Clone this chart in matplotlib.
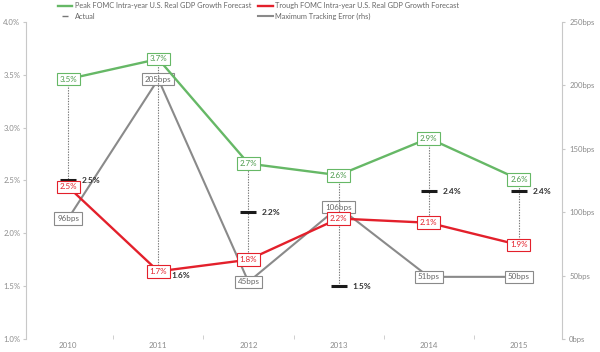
import matplotlib
matplotlib.use("Agg")
import matplotlib.pyplot as plt
from matplotlib.ticker import FuncFormatter, MultipleLocator

years = ["2010", "2011", "2012", "2013", "2014", "2015"]
peak = [3.46, 3.65, 2.66, 2.55, 2.90, 2.51]
peak_labels = ["3.5%", "3.7%", "2.7%", "2.6%", "2.9%", "2.6%"]
trough = [2.44, 1.64, 1.75, 2.14, 2.10, 1.89]
trough_labels = ["2.5%", "1.7%", "1.8%", "2.2%", "2.1%", "1.9%"]
actual = [2.5, 1.6, 2.2, 1.5, 2.4, 2.4]
actual_labels = ["2.5%", "1.6%", "2.2%", "1.5%", "2.4%", "2.4%"]
tracking = [95, 205, 45, 104, 49, 49]
tracking_labels = ["96bps", "205bps", "45bps", "106bps", "51bps", "50bps"]

GREEN = "#66b866"
RED = "#e3202b"
GRAY = "#8a8a8a"
AXIS = "#c8c8c8"
TXT = "#8c8c8c"

plt.rcParams["font.family"] = ["Lato", "DejaVu Sans"]

fig = plt.figure(figsize=(6.0, 3.52), dpi=100)
ax = fig.add_axes([0.043, 0.037, 0.894, 0.9005])
ax2 = ax.twinx()
ax.set_zorder(ax2.get_zorder() + 1)
ax.patch.set_visible(False)

x = list(range(len(years)))

# dotted range line per year, spanning forecasts and actual
for i in x:
    lo = min(peak[i], trough[i], actual[i])
    hi = max(peak[i], trough[i], actual[i])
    ax.plot([i, i], [lo, hi], color="#777777", lw=0.8, ls=(0, (1.2, 1.2)), zorder=1)

ax2.plot(x, tracking, color=GRAY, lw=1.5, zorder=2, label="Maximum Tracking Error (rhs)")
ax.plot(x, peak, color=GREEN, lw=1.7, zorder=3, label="Peak FOMC Intra-year U.S. Real GDP Growth Forecast")
ax.plot(x, trough, color=RED, lw=1.7, zorder=3, label="Trough FOMC Intra-year U.S. Real GDP Growth Forecast")
ax.plot(x, actual, ls="none", marker="_", ms=11, mew=2.2, color="#1a1a1a", zorder=4)

def boxed(a, xi, yi, s, col, tcol):
    a.text(xi, yi, s, ha="center", va="center", fontsize=5.8, color=tcol, zorder=6,
           bbox=dict(boxstyle="square,pad=0.35", fc="white", ec=col, lw=0.8))

for i in x:
    boxed(ax, i, peak[i], peak_labels[i], GREEN, "#4a9a4a")
    boxed(ax, i, trough[i], trough_labels[i], RED, RED)
    boxed(ax2, i, tracking[i], tracking_labels[i], GRAY, "#666666")
    ax.text(i + 0.15, actual[i], actual_labels[i], ha="left", va="center", fontsize=6,
            color="#333333", fontweight="bold", zorder=6)

ax.set_xlim(-0.47, 5.48)
ax.set_ylim(1.0, 4.0)
ax2.set_ylim(0, 250)
ax.set_xticks(x)
ax.set_xticklabels(years)
ax.set_xticks([i + 0.5 for i in x[:-1]], minor=True)
ax.yaxis.set_major_locator(MultipleLocator(0.5))
ax.yaxis.set_major_formatter(FuncFormatter(lambda v, p: f"{v:.1f}%"))
ax2.yaxis.set_major_locator(MultipleLocator(50))
ax2.yaxis.set_major_formatter(FuncFormatter(lambda v, p: f"{v:.0f}bps"))

for a in (ax, ax2):
    for s in ("top", "bottom"):
        a.spines[s].set_visible(False)
ax.spines["right"].set_visible(False)
ax2.spines["left"].set_visible(False)
ax.spines["left"].set_color(AXIS)
ax2.spines["right"].set_color(AXIS)
ax.tick_params(axis="y", colors=AXIS, labelcolor=TXT, labelsize=5.6, length=2, pad=2)
ax2.tick_params(axis="y", colors=AXIS, labelcolor=TXT, labelsize=5.6, length=2, pad=3)
ax.tick_params(axis="x", which="major", length=0, labelcolor=TXT, labelsize=5.8, pad=2)
ax.tick_params(axis="x", which="minor", length=3, color=AXIS, direction="in")

h1, l1 = ax.get_legend_handles_labels()
h2, l2 = ax2.get_legend_handles_labels()
actual_h = plt.Line2D([], [], ls="none", marker="_", ms=5, mew=1, color="#777777")
handles = [h1[0], actual_h, h1[1], h2[0]]
labels = [l1[0], "Actual", l1[1], l2[0]]
fig.legend(handles, labels, ncol=2, loc="upper left", bbox_to_anchor=(0.085, 1.012),
           frameon=False, fontsize=5.3, handlelength=2.0, handletextpad=0.3,
           columnspacing=1.0, labelspacing=0.45, labelcolor="#666666")

fig.savefig("out.png", dpi=100)
